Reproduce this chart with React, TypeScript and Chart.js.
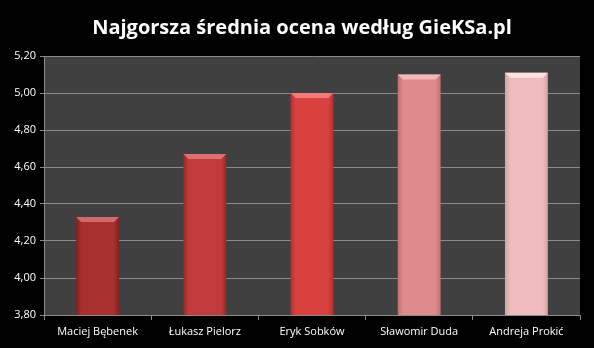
import React, { useEffect, useRef } from "react";
import { Chart, registerables } from "chart.js";

Chart.register(...registerables);

const categories = ["Maciej Bębenek", "Łukasz Pielorz", "Eryk Sobków", "Sławomir Duda", "Andreja Prokić"];
const values = [4.33, 4.67, 5.0, 5.1, 5.11];
const barColors = ["#a8302f", "#c23a39", "#d9413f", "#e08b8b", "#eebcbc"];
const edgeColors = ["#7f2020", "#962828", "#b03030", "#c06f6f", "#d4a2a2"];
const topColors = ["#d06a6a", "#e07070", "#f07a78", "#f3b8b8", "#fde2e2"];
const yTicks = [3.8, 4.0, 4.2, 4.4, 4.6, 4.8, 5.0, 5.2];
const titleText = "Najgorsza średnia ocena według GieKSa.pl";

const bgPlugin = {
  id: "bgPlugin",
  beforeDraw(chart: any) {
    const { ctx, chartArea } = chart;
    ctx.save();
    ctx.fillStyle = "#000000";
    ctx.fillRect(0, 0, chart.width, chart.height);
    ctx.fillStyle = "#404040";
    ctx.fillRect(chartArea.left, chartArea.top, chartArea.right - chartArea.left, chartArea.bottom - chartArea.top);
    ctx.restore();
  },
  afterDraw(chart: any) {
    const { ctx } = chart;
    ctx.save();
    ctx.fillStyle = "#ffffff";
    ctx.font = "bold 20px 'Open Sans'";
    ctx.textAlign = "center";
    ctx.textBaseline = "middle";
    ctx.fillText(titleText, 302, 28);
    ctx.restore();
  },
};

const bevelPlugin = {
  id: "bevelPlugin",
  afterDatasetsDraw(chart: any) {
    const { ctx } = chart;
    const meta = chart.getDatasetMeta(0);
    ctx.save();
    meta.data.forEach((bar: any, i: number) => {
      const { x, y, width } = bar.getProps(["x", "y", "width"], true);
      const l = x - width / 2;
      const r = x + width / 2;
      const h = 5;
      const d = 5;
      ctx.fillStyle = topColors[i];
      ctx.beginPath();
      ctx.moveTo(l, y);
      ctx.lineTo(r, y);
      ctx.lineTo(r - d, y + h);
      ctx.lineTo(l + d, y + h);
      ctx.closePath();
      ctx.fill();
    });
    ctx.restore();
  },
};

export default function App() {
  const ref = useRef<HTMLCanvasElement | null>(null);
  useEffect(() => {
    document.body.style.margin = "0";
    document.body.style.background = "#000";
    const canvas = ref.current!;
    const chart = new Chart(canvas, {
      type: "bar",
      data: {
        labels: categories,
        datasets: [
          {
            data: values,
            categoryPercentage: 1,
            barPercentage: 0.4,
            borderWidth: 0,
            backgroundColor: (c: any) => {
              const ch = c.chart;
              const i = c.dataIndex;
              if (!ch.chartArea || i === undefined) return barColors[i ?? 0];
              const xs = ch.scales.x;
              const cx = xs.getPixelForValue(i);
              const w = (xs.width / categories.length) * 0.4;
              const g = ch.ctx.createLinearGradient(cx - w / 2, 0, cx + w / 2, 0);
              g.addColorStop(0, edgeColors[i]);
              g.addColorStop(0.12, barColors[i]);
              g.addColorStop(0.88, barColors[i]);
              g.addColorStop(1, edgeColors[i]);
              return g;
            },
          },
        ],
      },
      plugins: [bgPlugin, bevelPlugin],
      options: {
        animation: false,
        responsive: false,
        maintainAspectRatio: false,
        layout: { padding: { left: 0, right: 14, top: 56, bottom: 0 } },
        plugins: {
          legend: { display: false },
          tooltip: { enabled: false },
          title: { display: false },
        },
        scales: {
          x: {
            offset: true,
            grid: {
              display: true,
              offset: true,
              drawOnChartArea: false,
              drawTicks: true,
              tickLength: 5,
              color: "#8a8a8a",
            },
            border: { display: true, color: "#8a8a8a" },
            ticks: {
              color: "#ffffff",
              font: { family: "Open Sans", size: 11 },
              padding: 5,
            },
            afterFit: (s: any) => {
              s.height = 33;
            },
          },
          y: {
            min: 3.8,
            max: 5.2,
            afterBuildTicks: (s: any) => {
              s.ticks = yTicks.map((v) => ({ value: v }));
            },
            grid: {
              color: "#8a8a8a",
              tickLength: 4,
              drawTicks: true,
            },
            border: { display: true, color: "#8a8a8a" },
            ticks: {
              color: "#ffffff",
              font: { family: "Open Sans", size: 11 },
              padding: 4,
              callback: (v: any) => Number(v).toFixed(2).replace(".", ","),
            },
            afterFit: (s: any) => {
              s.width = 44;
            },
          },
        },
      },
    } as any);
    return () => chart.destroy();
  }, []);
  return (
    <div style={{ width: 594, height: 348, background: "#000" }}>
      <canvas ref={ref} width={594} height={348} style={{ display: "block" }} />
    </div>
  );
}
